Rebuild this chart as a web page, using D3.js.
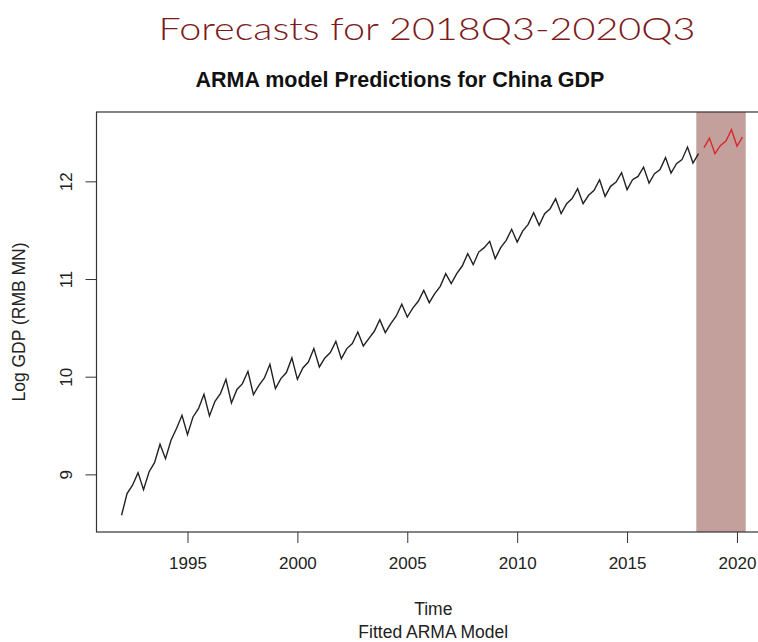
<!DOCTYPE html>
<html>
<head>
<meta charset="utf-8">
<script src="https://cdn.jsdelivr.net/npm/d3@7"></script>
<style>
  body { margin: 0; background: #fff; }
  text { font-family: "Liberation Sans", Arial, sans-serif; }
</style>
</head>
<body>
<div id="chart"></div>
<script>
// Data: log quarterly GDP, 1992Q1 - 2018Q2
const startYear = 1992;
const gdpLog = [
  8.581, 8.803, 8.889, 9.018,
  8.844, 9.025, 9.120, 9.308,
  9.161, 9.349, 9.469, 9.605,
  9.407, 9.588, 9.673, 9.820,
  9.598, 9.748, 9.827, 9.973,
  9.731, 9.870, 9.929, 10.055,
  9.816, 9.912, 9.987, 10.127,
  9.878, 9.980, 10.042, 10.192,
  9.973, 10.090, 10.150, 10.288,
  10.100, 10.192, 10.247, 10.362,
  10.185, 10.288, 10.339, 10.458,
  10.314, 10.390, 10.465, 10.584,
  10.451, 10.543, 10.622, 10.741,
  10.611, 10.703, 10.772, 10.884,
  10.758, 10.850, 10.925, 11.055,
  10.953, 11.055, 11.133, 11.260,
  11.147, 11.276, 11.321, 11.386,
  11.209, 11.321, 11.396, 11.509,
  11.379, 11.491, 11.560, 11.680,
  11.550, 11.669, 11.720, 11.823,
  11.669, 11.771, 11.823, 11.925,
  11.771, 11.857, 11.908, 12.017,
  11.846, 11.949, 11.993, 12.089,
  11.915, 12.017, 12.051, 12.146,
  11.983, 12.078, 12.120, 12.243,
  12.085, 12.181, 12.222, 12.351,
  12.187, 12.283
];

// Forecast: 2018Q3 - 2020Q2
const forecastStart = 2018.5;
const forecastLog = [12.345, 12.443, 12.283, 12.368, 12.413, 12.529, 12.361, 12.453];

const shadeSpan = [2018.15, 2020.4];
const xTicks = [1995, 2000, 2005, 2010, 2015, 2020];
const yTicks = [9, 10, 11, 12];

// Set up the SVG
const width = 758;
const height = 642;
const plot = { left: 96.5, right: 773, top: 112, bottom: 532 };

const svg = d3.select("#chart")
    .append("svg")
    .attr("width", width)
    .attr("height", height);

// Scales
const x = d3.scaleLinear()
    .domain([1990.86, 2021.64])
    .range([plot.left, plot.right]);

const y = d3.scaleLinear()
    .domain([8.41, 12.71])
    .range([plot.bottom, plot.top]);

const actual = gdpLog.map((v, i) => ({ t: startYear + i / 4, v }));
const forecast = forecastLog.map((v, i) => ({ t: forecastStart + i / 4, v }));

// Forecast window shading
svg.append("rect")
    .attr("x", x(shadeSpan[0]))
    .attr("y", plot.top)
    .attr("width", x(shadeSpan[1]) - x(shadeSpan[0]))
    .attr("height", plot.bottom - plot.top)
    .attr("fill", "#c4a09c");

// Lines
const line = d3.line()
    .x(d => x(d.t))
    .y(d => y(d.v));

svg.append("path")
    .datum(actual)
    .attr("d", line)
    .attr("fill", "none")
    .attr("stroke", "#222")
    .attr("stroke-width", 1.4);

svg.append("path")
    .datum(forecast)
    .attr("d", line)
    .attr("fill", "none")
    .attr("stroke", "#d42a2a")
    .attr("stroke-width", 1.4);

// Plot frame
svg.append("rect")
    .attr("x", plot.left)
    .attr("y", plot.top)
    .attr("width", plot.right - plot.left)
    .attr("height", plot.bottom - plot.top)
    .attr("fill", "none")
    .attr("stroke", "#333")
    .attr("stroke-width", 1.2);

// Axes
const xAxis = svg.append("g")
    .attr("transform", `translate(0,${plot.bottom})`)
    .call(d3.axisBottom(x).tickValues(xTicks).tickSize(11).tickPadding(14).tickFormat(d3.format("d")));

const yAxis = svg.append("g")
    .attr("transform", `translate(${plot.left},0)`)
    .call(d3.axisLeft(y).tickValues(yTicks).tickSize(11).tickFormat(d3.format("d")));

[xAxis, yAxis].forEach(g => {
    g.select(".domain").remove();
    g.selectAll("line").attr("stroke", "#333");
    g.selectAll("text")
        .attr("font-family", "Liberation Sans, Arial, sans-serif")
        .attr("font-size", 17)
        .attr("fill", "#222");
});

// y tick labels rotated like base R
yAxis.selectAll("text")
    .attr("x", 0)
    .attr("dy", null)
    .attr("text-anchor", "middle")
    .attr("transform", "translate(-25,0) rotate(-90)");

// Titles and labels
svg.append("text")
    .attr("x", 427)
    .attr("y", 40)
    .attr("text-anchor", "middle")
    .attr("textLength", 537)
    .attr("lengthAdjust", "spacingAndGlyphs")
    .style("font-family", "Lato, 'Open Sans', sans-serif")
    .style("font-weight", 300)
    .style("font-size", "32px")
    .attr("fill", "#7d1a1a")
    .text("Forecasts for 2018Q3-2020Q3");

svg.append("text")
    .attr("x", 400)
    .attr("y", 87)
    .attr("text-anchor", "middle")
    .style("font-weight", "bold")
    .style("font-size", "21.5px")
    .attr("fill", "#111")
    .text("ARMA model Predictions for China GDP");

svg.append("text")
    .attr("x", (plot.left + 758) / 2 + 6)
    .attr("y", 615)
    .attr("text-anchor", "middle")
    .style("font-size", "17.5px")
    .attr("fill", "#222")
    .text("Time");

svg.append("text")
    .attr("x", (plot.left + 758) / 2 + 6)
    .attr("y", 638)
    .attr("text-anchor", "middle")
    .style("font-size", "17.5px")
    .attr("fill", "#222")
    .text("Fitted ARMA Model");

svg.append("text")
    .attr("transform", `translate(25,${(plot.top + plot.bottom) / 2}) rotate(-90)`)
    .attr("text-anchor", "middle")
    .style("font-size", "17.5px")
    .attr("fill", "#222")
    .text("Log GDP (RMB MN)");
</script>
</body>
</html>
